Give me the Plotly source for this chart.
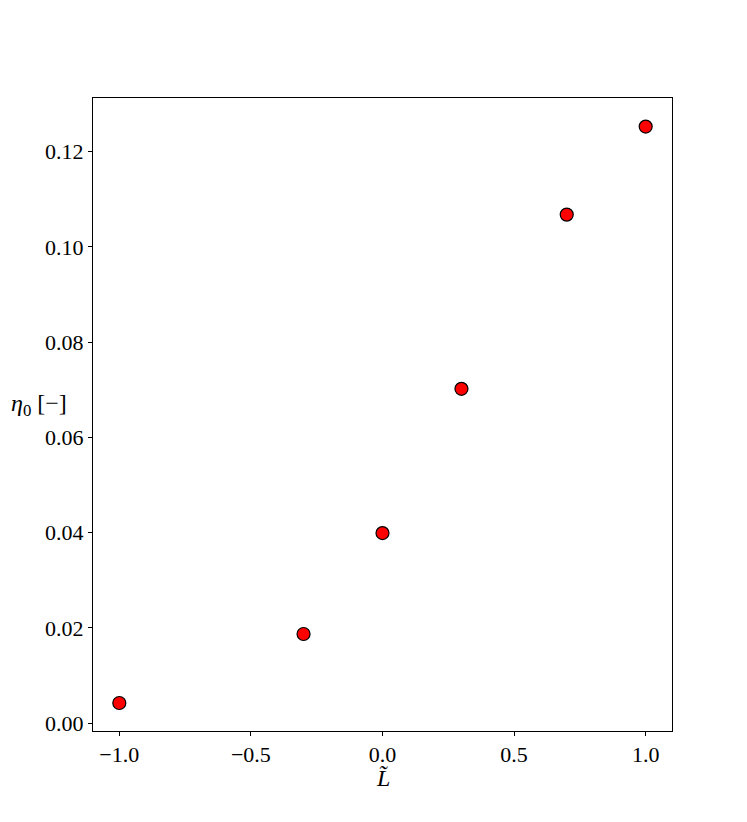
import plotly.graph_objects as go

L_values = [-1.0, -0.3, 0.0, 0.3, 0.7, 1.0]
eta0_values = [0.0042, 0.0187, 0.0399, 0.0702, 0.1068, 0.1253]
x_ticks = [-1.0, -0.5, 0.0, 0.5, 1.0]
x_tick_labels = ["\u22121.0", "\u22120.5", "0.0", "0.5", "1.0"]
y_ticks = [0.00, 0.02, 0.04, 0.06, 0.08, 0.10, 0.12]
y_tick_labels = ["0.00", "0.02", "0.04", "0.06", "0.08", "0.10", "0.12"]

font_family = "Liberation Serif, DejaVu Serif, serif"

fig = go.Figure()
fig.add_trace(go.Scatter(
    x=L_values, y=eta0_values, mode="markers",
    marker=dict(size=13, color="red", line=dict(color="black", width=1.2)),
    showlegend=False,
))

axis_common = dict(
    showgrid=False, zeroline=False, showline=True, linecolor="black", linewidth=1,
    mirror=True, ticks="outside", ticklen=4, tickwidth=1, tickcolor="black",
    tickfont=dict(family=font_family, size=22, color="black"),
)
fig.update_xaxes(range=[-1.1, 1.1], tickvals=x_ticks, ticktext=x_tick_labels, **axis_common)
fig.update_yaxes(range=[-0.00168, 0.1313], tickvals=y_ticks, ticktext=y_tick_labels, **axis_common)

fig.add_annotation(text="<i>L\u0303</i>", xref="paper", yref="paper", x=0.5, y=-0.051,
                   xanchor="center", yanchor="top", showarrow=False,
                   font=dict(family=font_family, size=24, color="black"))
fig.add_annotation(text="<i>\u03b7</i><sub>0</sub> [\u2212]", xref="paper", yref="paper",
                   x=-0.145, y=0.515, xanchor="left", yanchor="middle", showarrow=False,
                   font=dict(family=font_family, size=24, color="black"))

fig.update_layout(
    width=747, height=822,
    margin=dict(l=85, r=83, t=90, b=99, autoexpand=False),
    plot_bgcolor="white", paper_bgcolor="white",
    font=dict(family=font_family, color="black"),
)
fig.write_html("out.html")
